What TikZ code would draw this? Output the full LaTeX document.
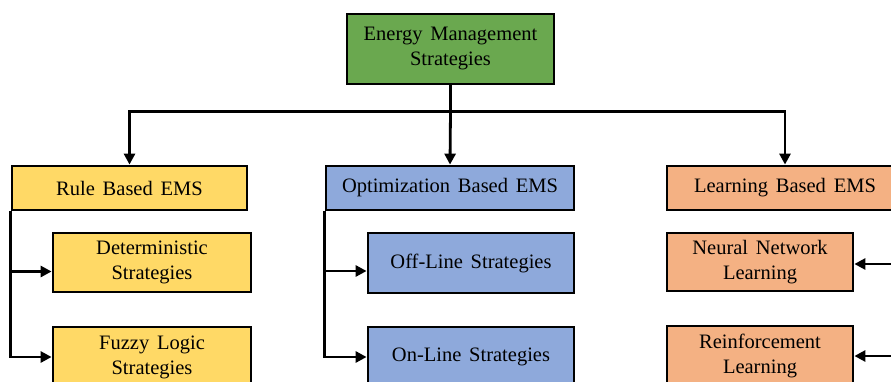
\documentclass[tikz,border=0pt]{standalone}
\usepackage{fontspec}
\setmainfont{Liberation Serif}
\usetikzlibrary{arrows.meta}
\definecolor{cgreen}{HTML}{6AA84F}
\definecolor{cyellow}{HTML}{FFD966}
\definecolor{cblue}{HTML}{8EA9DB}
\definecolor{corange}{HTML}{F4B183}
\newcommand\boxfont{\fontsize{20.5}{25}\selectfont\spaceskip=0.38em plus 0.1em minus 0.05em\relax}
\tikzset{
  box/.style={draw=black, line width=2.8pt, inner sep=2pt, align=center,
    font=\boxfont},
  conn/.style={line width=2.8pt},
  arr/.style={line width=2.8pt, -{Triangle[length=11pt,width=11pt]}},
}
\begin{document}
\begin{tikzpicture}[x=1pt,y=-1pt]
\useasboundingbox (0,0) rectangle (891,382);
\clip (0,0) rectangle (891,382);
\fill[white] (0,0) rectangle (891,382);
% top
\node[box, fill=cgreen, minimum width=207pt, minimum height=70pt] (top) at (450.5,49) {Energy Management\\Strategies};
% headers
\node[box, fill=cyellow, minimum width=235pt, minimum height=44pt] (rule) at (129.5,188) {Rule Based EMS};
\node[box, fill=cblue, minimum width=248pt, minimum height=44pt] (opt) at (450,188) {Optimization Based EMS};
\node[box, fill=corange, minimum width=236pt, minimum height=44pt] (learn) at (785,188) {Learning Based EMS};
% children
\node[box, fill=cyellow, minimum width=198pt, minimum height=59pt] (det) at (152,262.5) {Deterministic\\Strategies};
\node[box, fill=cyellow, minimum width=198pt, minimum height=60pt] (fuzzy) at (152,357) {Fuzzy Logic\\Strategies};
\node[box, fill=cblue, minimum width=206pt, minimum height=60pt] (off) at (471,263) {Off-Line Strategies};
\node[box, fill=cblue, minimum width=206pt, minimum height=60pt] (on) at (471,357) {On-Line Strategies};
\node[box, fill=corange, minimum width=186pt, minimum height=58pt] (nn) at (760,262) {Neural Network\\Learning};
\node[box, fill=corange, minimum width=186pt, minimum height=60pt] (rl) at (760,356) {Reinforcement\\Learning};
% trunk
\draw[conn] (top.south) -- ++(0,26) coordinate (j);
\draw[arr] (j) -| (rule.north);
\draw[arr] (j) -- (opt.north);
\draw[arr] (j) -| (learn.north);
% rule branch
\draw[arr] (rule.south west) |- ([yshift=-9pt]det.west);
\draw[arr] (rule.south west) |- (fuzzy.west);
% optimization branch
\draw[arr] (opt.south west) |- ([yshift=-8pt]off.west);
\draw[arr] (opt.south west) |- (on.west);
% learning branch
\draw[arr] (learn.south east) |- ([yshift=-2pt]nn.east);
\draw[arr] (learn.south east) |- (rl.east);
\end{tikzpicture}
\end{document}
